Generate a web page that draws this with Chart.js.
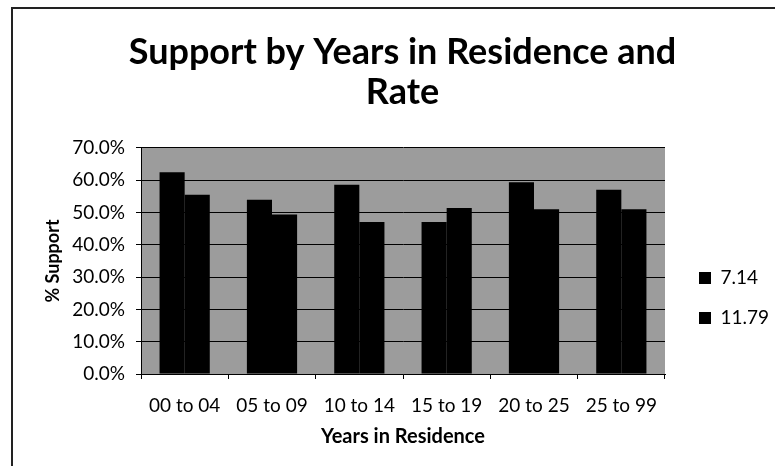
<!DOCTYPE html>
<html>
<head>
<meta charset="utf-8">
<script src="https://cdn.jsdelivr.net/npm/chart.js@4"></script>
<style>
  html, body { margin:0; padding:0; background:#fff; overflow:hidden; }
  #wrap { position:relative; width:775px; height:466px; }
  #frame { position:absolute; left:11px; top:7px; width:900px; height:600px; border:2px solid #222; box-sizing:border-box; }
  #c { position:absolute; left:0; top:0; }
</style>
</head>
<body>
<div id="wrap">
  <div id="frame"></div>
  <canvas id="c" width="775" height="466"></canvas>
</div>
<script>
const categories = ["00 to 04", "05 to 09", "10 to 14", "15 to 19", "20 to 25", "25 to 99"];
const seriesNames = ["7.14", "11.79"];
const rate714 = [62.5, 54.0, 58.6, 47.1, 59.4, 57.1];
const rate1179 = [55.5, 49.4, 47.1, 51.4, 51.0, 51.0];
const yTicks = [0, 10, 20, 30, 40, 50, 60, 70];
const titleLines = ["Support by Years in Residence and", "Rate"];
const xTitle = "Years in Residence";
const yTitle = "% Support";

const FONT = "Lato, 'Open Sans', sans-serif";

const plotBg = {
  id: 'plotBg',
  beforeDraw(chart) {
    const {ctx, chartArea: a} = chart;
    ctx.save();
    ctx.fillStyle = '#9c9c9c';
    ctx.fillRect(a.left, a.top, a.right - a.left, a.bottom - a.top);
    ctx.restore();
  }
};

new Chart(document.getElementById('c'), {
  type: 'bar',
  data: {
    labels: categories,
    datasets: [
      { label: seriesNames[0], data: rate714, backgroundColor: '#000', borderWidth: 0 },
      { label: seriesNames[1], data: rate1179, backgroundColor: '#000', borderWidth: 0 }
    ]
  },
  options: {
    responsive: false,
    animation: false,
    devicePixelRatio: 1,
    layout: { padding: { top: 8, left: 30, right: 0, bottom: 0 } },
    datasets: { bar: { barPercentage: 1.0, categoryPercentage: 0.575 } },
    plugins: {
      title: {
        display: true,
        text: titleLines,
        color: '#000',
        font: { family: FONT, size: 36, weight: 'bold', lineHeight: 1.111 },
        padding: { top: 24, bottom: 36 }
      },
      legend: {
        position: 'right',
        maxWidth: 97,
        title: { display: true, text: ' ', font: { size: 10, lineHeight: 1 }, padding: { top: 112, bottom: 0 } },
        labels: {
          color: '#000',
          boxWidth: 12,
          boxHeight: 12,
          padding: 21,
          font: { family: FONT, size: 19 }
        }
      },
      tooltip: { enabled: false }
    },
    scales: {
      x: {
        grid: { drawOnChartArea: false, drawTicks: true, tickLength: 5, color: '#000' },
        border: { display: true, color: '#000', width: 1 },
        ticks: { color: '#000', padding: 15, font: { family: FONT, size: 19 }, maxRotation: 0 },
        title: { display: true, text: xTitle, color: '#000', font: { family: FONT, size: 20, weight: 'bold', lineHeight: 1.2 }, padding: { top: 0, bottom: 17 } },
        afterFit(s) { s.height = 92; }
      },
      y: {
        min: 0, max: 70,
        afterBuildTicks(s) { s.ticks = yTicks.map(v => ({ value: v })); },
        grid: { color: '#000', lineWidth: 1, drawTicks: true, tickLength: 5 },
        border: { display: true, color: '#000', width: 1 },
        ticks: { color: '#000', padding: 11, font: { family: FONT, size: 19 }, callback: v => v.toFixed(1) + '%' },
        title: { display: true, text: yTitle, color: '#000', font: { family: FONT, size: 18, weight: 'bold', lineHeight: 1.2 }, padding: { top: 12, bottom: 0 } },
        afterFit(s) { s.width = 111; }
      },
      gap: {
        position: 'right',
        display: true,
        grid: { display: false, drawTicks: false },
        border: { display: false },
        ticks: { display: false },
        afterFit(s) { s.width = 13; }
      }
    }
  },
  plugins: [plotBg]
});
</script>
</body>
</html>
